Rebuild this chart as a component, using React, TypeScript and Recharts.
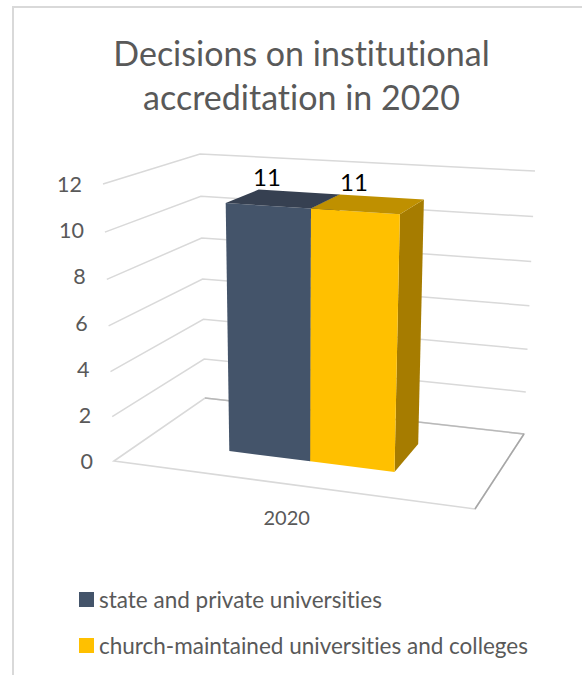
import React from 'react';
import { BarChart, Bar, XAxis, YAxis, CartesianGrid, Legend } from 'recharts';

// ---- data ----
const categories = ['2020'];
const stateUniversities = [11];
const churchUniversities = [11];
const valueTicks = [0, 2, 4, 6, 8, 10, 12];
const titleLines = ['Decisions on institutional', 'accreditation in 2020'];
const seriesNames = ['state and private universities', 'church-maintained universities and colleges'];

const data = categories.map((year, i) => ({
  year,
  state: stateUniversities[i],
  church: churchUniversities[i],
}));

// ---- layout of the flat plot (front face of the 3D box) ----
const CHART_W = 582;
const CHART_H = 675;
const L = 114;
const T = 184;
const W = 361;
const H = 277;
const FONT = 'Lato, "Open Sans", sans-serif';
const TEXT = '#595959';
const GRID = '#d9d9d9';
const NO_LIGATURES = { fontVariantLigatures: 'none' } as const;

type P = [number, number];
// corners of the 3D box: floor / ceiling, front / back
const FFL: P = [114, 461];
const FFR: P = [475, 509];
const FBL: P = [205, 398];
const FBR: P = [524, 434];
const CFL: P = [103, 184];
const CFR: P = [487, 208];
const CBL: P = [200, 154];
const CBR: P = [535, 171];
const BAR_FRONT = 0.33;
const BAR_BACK = 0.72;

const warp = (t: number, k: number) => t / (t + (1 - t) * k);
const mix = (a: P, b: P, t: number): P => [a[0] + (b[0] - a[0]) * t, a[1] + (b[1] - a[1]) * t];

// maps a point of the flat chart plus a depth (0 front, 1 back) to the picture
function project(px: number, py: number, depth: number): P {
  const u = warp((px - L) / W, 1.09);
  const t = warp((B() - py) / H, 1.05);
  const floor = mix(mix(FFL, FFR, u), mix(FBL, FBR, u), depth);
  const ceil = mix(mix(CFL, CFR, u), mix(CBL, CBR, u), depth);
  return mix(floor, ceil, t);
}
function B() {
  return T + H;
}
const pts = (list: P[]) => list.map((p) => `${p[0].toFixed(1)},${p[1].toFixed(1)}`).join(' ');

const GridLine = (p: any) => {
  const y = p.y1;
  const a = project(L, y, 0);
  const b = project(L, y, 1);
  const c = project(L + W, y, 1);
  const isFloor = Math.abs(y - B()) < 0.5;
  if (isFloor) {
    const d = project(L + W, y, 0);
    return (
      <g key={p.key ?? y}>
        <polygon points={pts([a, b, c, d])} fill="#ffffff" stroke={GRID} strokeWidth={1.6} />
        <line x1={b[0]} y1={b[1]} x2={c[0]} y2={c[1]} stroke="#b8b8b8" strokeWidth={1.4} />
        <line x1={c[0]} y1={c[1]} x2={d[0]} y2={d[1]} stroke="#a6a6a6" strokeWidth={1.5} />
      </g>
    );
  }
  return <polyline key={p.key ?? y} points={pts([a, b, c])} fill="none" stroke={GRID} strokeWidth={1.5} />;
};

const makeBox = (topColor: string, sideColor: string) => (p: any) => {
  const { x, y, width, height, fill } = p;
  const r = x + width;
  const bottom = y + height;
  return (
    <g>
      <polygon
        points={pts([project(r, bottom, BAR_FRONT), project(r, bottom, BAR_BACK), project(r, y, BAR_BACK), project(r, y, BAR_FRONT)])}
        fill={sideColor}
      />
      <polygon
        points={pts([project(x, bottom, BAR_FRONT), project(r, bottom, BAR_FRONT), project(r, y, BAR_FRONT), project(x, y, BAR_FRONT)])}
        fill={fill}
      />
      <polygon
        points={pts([project(x, y, BAR_FRONT), project(r, y, BAR_FRONT), project(r, y, BAR_BACK), project(x, y, BAR_BACK)])}
        fill={topColor}
      />
    </g>
  );
};

const renderValue = (p: any) => {
  const [cx, cy] = project(p.x + p.width / 2, p.y, BAR_FRONT);
  return (
    <text x={cx - 1} y={cy - 20} textAnchor="middle" fontFamily={FONT} fontSize={24} fill="#000000">
      {p.value}
    </text>
  );
};

const YTick = (p: any) => {
  const [px] = project(L, p.y, 0);
  return (
    <text x={px - 21} y={p.y} dy={8} textAnchor="end" fontFamily={FONT} fontSize={21.5} fill={TEXT}>
      {p.payload.value}
    </text>
  );
};

const XTick = (p: any) => {
  const [px, py] = project(p.x, B(), 0);
  return (
    <text x={px} y={py + 41} textAnchor="middle" fontFamily={FONT} fontSize={20} fill={TEXT}>
      {p.payload.value}
    </text>
  );
};

const LegendList = (p: any) => (
  <div style={{ fontFamily: FONT, fontSize: 22.5, color: TEXT, ...NO_LIGATURES }}>
    {(p.payload ?? []).map((item: any) => (
      <div key={item.value} style={{ display: 'flex', alignItems: 'center', height: 46, whiteSpace: 'nowrap' }}>
        <span style={{ width: 15, height: 15, background: item.color, marginRight: 5, display: 'inline-block' }} />
        {item.value}
      </div>
    ))}
  </div>
);

export default function App() {
  return (
    <div style={{ position: 'absolute', left: 0, top: 0, width: CHART_W, height: CHART_H, overflow: 'hidden', background: '#fff' }}>
      <div
        style={{
          position: 'absolute',
          left: 12,
          top: 6,
          width: CHART_W,
          height: CHART_H,
          borderLeft: '2px solid #d9d9d9',
          borderTop: '2px solid #d9d9d9',
        }}
      />
      <div
        style={{
          position: 'absolute',
          left: 0,
          top: 31,
          width: 603,
          textAlign: 'center',
          fontFamily: FONT,
          fontSize: 34,
          lineHeight: '44px',
          color: TEXT,
          ...NO_LIGATURES,
        }}
      >
        {titleLines.map((line) => (
          <div key={line}>{line}</div>
        ))}
      </div>
      <div style={{ position: 'absolute', left: 0, top: 0 }}>
        <BarChart
          width={CHART_W}
          height={CHART_H}
          data={data}
          margin={{ left: L - 60, top: T, right: CHART_W - L - W, bottom: CHART_H - B() - 30 }}
          barCategoryGap="26.2%"
          barGap={0}
        >
          <CartesianGrid vertical={false} horizontal={GridLine} />
          <XAxis dataKey="year" axisLine={false} tickLine={false} height={30} tick={XTick} />
          <YAxis width={60} domain={[0, 12]} ticks={valueTicks} axisLine={false} tickLine={false} tick={YTick} />
          <Legend
            layout="vertical"
            align="center"
            verticalAlign="middle"
            itemSorter={null}
            wrapperStyle={{ left: 79, top: 576, width: 495 }}
            content={LegendList}
          />
          <Bar
            dataKey="state"
            name={seriesNames[0]}
            fill="#44546a"
            isAnimationActive={false}
            shape={makeBox('#364051', '#333f50')}
            label={renderValue}
          />
          <Bar
            dataKey="church"
            name={seriesNames[1]}
            fill="#ffc000"
            isAnimationActive={false}
            shape={makeBox('#bf9000', '#a67c00')}
            label={renderValue}
          />
        </BarChart>
      </div>
    </div>
  );
}
